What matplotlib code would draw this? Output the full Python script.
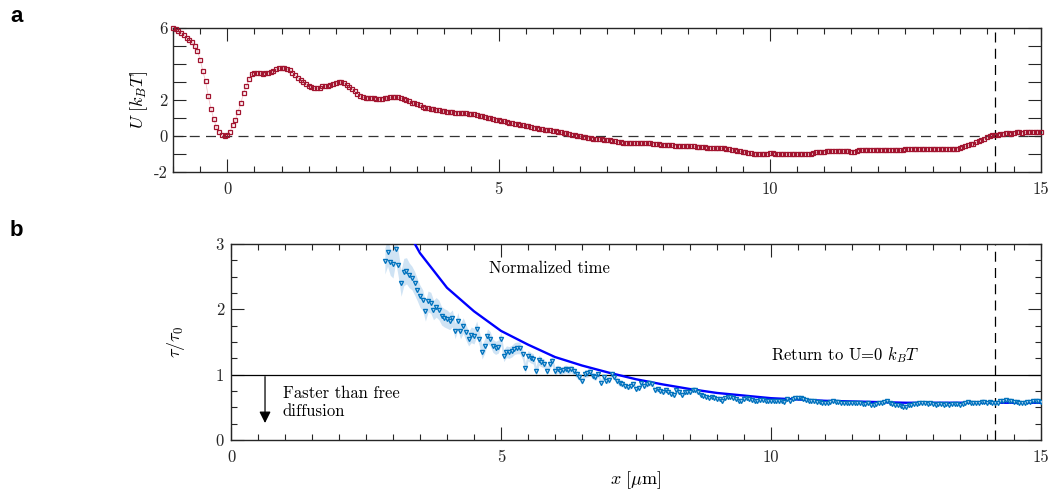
import numpy as np
import matplotlib
matplotlib.use("Agg")
import matplotlib.pyplot as plt

plt.rcParams['font.family'] = 'cmr10'
plt.rcParams['mathtext.fontset'] = 'cm'
plt.rcParams['axes.unicode_minus'] = False
plt.rcParams['axes.formatter.use_mathtext'] = True

# panel a: potential U(x), sampled every 0.05 um from -1 to 15
pot_x = np.round(np.arange(-1.0, 15.001, 0.05), 2)
pot_u = [
    6.0, 5.92, 5.82, 5.72, 5.6, 5.47, 5.35, 5.2, 5.02, 4.72, 4.25, 3.6, 3.03, 2.2, 1.5, 0.95, 0.48, 0.2, 0.05, 0.0,
    0.05, 0.25, 0.6, 0.9, 1.36, 1.82, 2.4, 2.76, 3.15, 3.43, 3.5, 3.52, 3.52, 3.45, 3.5, 3.52, 3.57, 3.63, 3.7, 3.77,
    3.78, 3.78, 3.74, 3.65, 3.52, 3.38, 3.22, 3.09, 2.98, 2.88, 2.79, 2.71, 2.64, 2.64, 2.69, 2.76, 2.77, 2.77, 2.84, 2.9,
    2.95, 2.98, 3.0, 2.93, 2.84, 2.72, 2.6, 2.48, 2.35, 2.24, 2.14, 2.12, 2.12, 2.12, 2.1, 2.05, 2.04, 2.08, 2.1, 2.1,
    2.14, 2.16, 2.16, 2.14, 2.1, 2.04, 1.98, 1.93, 1.86, 1.81, 1.76, 1.7, 1.62, 1.57, 1.54, 1.5, 1.48, 1.45, 1.43, 1.41,
    1.38, 1.36, 1.34, 1.32, 1.3, 1.29, 1.28, 1.27, 1.26, 1.24, 1.22, 1.2, 1.16, 1.12, 1.09, 1.06, 1.02, 0.98, 0.95, 0.91,
    0.88, 0.84, 0.81, 0.78, 0.75, 0.72, 0.69, 0.66, 0.63, 0.6, 0.57, 0.54, 0.5, 0.47, 0.44, 0.41, 0.38, 0.36, 0.34, 0.32,
    0.3, 0.27, 0.24, 0.21, 0.18, 0.15, 0.12, 0.08, 0.05, 0.02, -0.02, -0.05, -0.08, -0.1, -0.12, -0.14, -0.16, -0.17, -0.18, -0.2,
    -0.21, -0.22, -0.26, -0.3, -0.33, -0.35, -0.37, -0.38, -0.39, -0.39, -0.39, -0.39, -0.39, -0.39, -0.39, -0.4, -0.41, -0.43, -0.45, -0.46,
    -0.48, -0.49, -0.5, -0.51, -0.52, -0.53, -0.54, -0.54, -0.55, -0.56, -0.57, -0.58, -0.58, -0.59, -0.6, -0.61, -0.62, -0.64, -0.66, -0.68,
    -0.69, -0.69, -0.69, -0.69, -0.7, -0.73, -0.77, -0.8, -0.83, -0.86, -0.88, -0.9, -0.92, -0.96, -1.0, -1.0, -1.0, -1.0, -1.0, -1.0,
    -0.97, -0.96, -0.99, -1.0, -1.0, -1.0, -1.0, -1.0, -1.0, -1.0, -1.0, -1.0, -1.0, -1.0, -1.0, -1.0, -0.95, -0.91, -0.9, -0.89,
    -0.88, -0.86, -0.85, -0.84, -0.84, -0.84, -0.84, -0.84, -0.84, -0.86, -0.88, -0.88, -0.84, -0.8, -0.78, -0.77, -0.76, -0.76, -0.76, -0.76,
    -0.76, -0.76, -0.76, -0.76, -0.76, -0.76, -0.76, -0.79, -0.8, -0.78, -0.74, -0.72, -0.71, -0.71, -0.71, -0.71, -0.71, -0.71, -0.71, -0.71,
    -0.71, -0.71, -0.71, -0.71, -0.71, -0.71, -0.71, -0.71, -0.71, -0.71, -0.67, -0.62, -0.57, -0.52, -0.47, -0.42, -0.36, -0.29, -0.22, -0.15,
    -0.08, -0.02, 0.03, 0.06, 0.08, 0.1, 0.12, 0.18, 0.16, 0.11, 0.18, 0.24, 0.22, 0.18, 0.2, 0.21, 0.22, 0.22, 0.22, 0.22,
    0.22,
]

# panel b: normalized time, measured points every 0.05 um from 2.85 to 15
tau_x = np.round(np.arange(2.85, 15.001, 0.05), 2)
tau = [
    2.74, 2.87, 2.72, 2.7, 2.93, 2.68, 2.4, 2.57, 2.59, 2.52, 2.48, 2.4, 2.3, 2.2, 2.14, 1.97, 2.12, 2.1, 1.99, 2.03,
    1.99, 1.9, 1.87, 1.85, 1.82, 1.86, 1.67, 1.82, 1.67, 1.75, 1.65, 1.55, 1.61, 1.59, 1.7, 1.55, 1.35, 1.44, 1.59, 1.55,
    1.44, 1.41, 1.43, 1.55, 1.29, 1.35, 1.34, 1.36, 1.4, 1.41, 1.41, 1.31, 1.1, 1.29, 1.26, 1.24, 1.05, 1.22, 1.19, 1.17,
    1.06, 1.16, 1.21, 1.05, 1.09, 1.05, 1.07, 1.09, 1.07, 1.09, 1.05, 1.01, 0.97, 0.9, 1.01, 1.02, 1.04, 0.98, 0.96, 1.01,
    0.88, 0.96, 0.91, 0.92, 1.01, 0.96, 0.91, 0.87, 0.86, 0.83, 0.81, 0.82, 0.86, 0.78, 0.8, 0.88, 0.83, 0.85, 0.87, 0.86,
    0.76, 0.78, 0.75, 0.74, 0.76, 0.74, 0.71, 0.69, 0.76, 0.74, 0.69, 0.73, 0.74, 0.74, 0.77, 0.76, 0.74, 0.69, 0.68, 0.66,
    0.65, 0.66, 0.65, 0.63, 0.62, 0.59, 0.65, 0.66, 0.66, 0.65, 0.63, 0.59, 0.6, 0.63, 0.64, 0.62, 0.61, 0.59, 0.6, 0.61,
    0.61, 0.6, 0.59, 0.6, 0.6, 0.59, 0.59, 0.6, 0.58, 0.63, 0.6, 0.63, 0.65, 0.64, 0.64, 0.62, 0.61, 0.6, 0.59, 0.59,
    0.58, 0.58, 0.57, 0.56, 0.57, 0.58, 0.59, 0.58, 0.58, 0.57, 0.56, 0.56, 0.57, 0.56, 0.56, 0.57, 0.56, 0.55, 0.55, 0.56,
    0.54, 0.54, 0.55, 0.56, 0.57, 0.58, 0.59, 0.57, 0.55, 0.54, 0.54, 0.52, 0.5, 0.51, 0.53, 0.54, 0.55, 0.55, 0.56, 0.56,
    0.56, 0.55, 0.56, 0.55, 0.54, 0.55, 0.55, 0.54, 0.55, 0.54, 0.55, 0.55, 0.55, 0.54, 0.55, 0.56, 0.58, 0.57, 0.56, 0.56,
    0.57, 0.58, 0.58, 0.57, 0.58, 0.57, 0.56, 0.57, 0.59, 0.59, 0.61, 0.6, 0.6, 0.58, 0.58, 0.57, 0.56, 0.57, 0.58, 0.58,
    0.59, 0.59, 0.6, 0.58,
]
tau_err = [
    0.2, 0.21, 0.2, 0.22, 0.21, 0.19, 0.2, 0.21, 0.2, 0.19, 0.18, 0.18, 0.17, 0.17, 0.16, 0.15, 0.16, 0.16, 0.15, 0.15,
    0.15, 0.14, 0.14, 0.14, 0.13, 0.13, 0.12, 0.13, 0.12, 0.12, 0.12, 0.11, 0.12, 0.12, 0.12, 0.11, 0.11, 0.11, 0.11, 0.11,
    0.1, 0.1, 0.1, 0.1, 0.09, 0.09, 0.09, 0.09, 0.09, 0.09, 0.09, 0.08, 0.08, 0.08, 0.08, 0.08, 0.08, 0.08, 0.07, 0.07,
    0.07, 0.07, 0.07, 0.07, 0.06, 0.06, 0.06, 0.06, 0.06, 0.06, 0.06, 0.06, 0.06, 0.05, 0.06, 0.06, 0.06, 0.05, 0.05, 0.05,
    0.05, 0.05, 0.05, 0.05, 0.05, 0.05, 0.05, 0.05, 0.05, 0.04, 0.04, 0.04, 0.04, 0.04, 0.04, 0.04, 0.04, 0.04, 0.04, 0.04,
    0.04, 0.04, 0.04, 0.04, 0.04, 0.04, 0.04, 0.04, 0.04, 0.04, 0.04, 0.04, 0.04, 0.04, 0.04, 0.04, 0.04, 0.04, 0.03, 0.03,
    0.03, 0.03, 0.03, 0.03, 0.03, 0.03, 0.03, 0.03, 0.03, 0.03, 0.03, 0.03, 0.03, 0.03, 0.03, 0.03, 0.03, 0.03, 0.03, 0.03,
    0.03, 0.03, 0.03, 0.03, 0.03, 0.03, 0.03, 0.03, 0.03, 0.03, 0.03, 0.03, 0.03, 0.03, 0.03, 0.03, 0.03, 0.03, 0.03, 0.03,
    0.02, 0.02, 0.02, 0.02, 0.02, 0.02, 0.02, 0.02, 0.02, 0.02, 0.02, 0.02, 0.02, 0.02, 0.02, 0.02, 0.02, 0.02, 0.02, 0.02,
    0.02, 0.02, 0.02, 0.02, 0.02, 0.02, 0.02, 0.02, 0.02, 0.02, 0.02, 0.02, 0.02, 0.02, 0.02, 0.02, 0.02, 0.02, 0.02, 0.02,
    0.02, 0.02, 0.02, 0.02, 0.02, 0.02, 0.02, 0.02, 0.02, 0.02, 0.02, 0.02, 0.02, 0.02, 0.02, 0.02, 0.02, 0.02, 0.02, 0.02,
    0.02, 0.02, 0.02, 0.02, 0.02, 0.02, 0.02, 0.02, 0.02, 0.02, 0.02, 0.02, 0.02, 0.02, 0.02, 0.02, 0.02, 0.02, 0.02, 0.02,
    0.02, 0.02, 0.02, 0.02,
]

# model curve for the normalized time
model_x = np.arange(3.0, 15.001, 0.5)
model_tau = [3.6, 2.86, 2.33, 1.97, 1.67, 1.46, 1.27, 1.14, 1.03, 0.93, 0.85, 0.78, 0.72,
             0.68, 0.64, 0.62, 0.6, 0.59, 0.58, 0.57, 0.57, 0.57, 0.57, 0.57, 0.57]

x_return = 14.15

red = '#A2142F'
blue = '#0072BD'
spine_col = '#262626'

fig = plt.figure(figsize=(10.5, 4.96), dpi=100)
ax_a = fig.add_axes([0.1648, 0.6532, 0.8267, 0.2903])
ax_b = fig.add_axes([0.22, 0.1129, 0.7714, 0.3952])


def style_axes(ax):
    for s in ax.spines.values():
        s.set_color(spine_col)
        s.set_linewidth(1.0)
    ax.tick_params(which='both', direction='in', top=True, right=True,
                   colors=spine_col, labelcolor='#262626', labelsize=12, width=0.8)
    ax.tick_params(which='major', length=9.5)
    ax.tick_params(which='minor', length=4.5)


# ---- panel a
ax_a.axhline(0, color='#333333', lw=0.9, ls=(0, (8, 5)), zorder=1)
ax_a.axvline(x_return, color='black', lw=0.9, ls=(0, (8, 5)), zorder=1)
ax_a.plot(pot_x, pot_u, '-', color='#f0b8c0', lw=0.5, zorder=2)
ax_a.plot(pot_x, pot_u, 's', ms=3.2, mfc='none', mec=red, mew=0.9, zorder=3, clip_on=False)
ax_a.set_xlim(-1, 15)
ax_a.set_ylim(-2, 6)
style_axes(ax_a)
ax_a.set_xticks([0, 5, 10, 15])
ax_a.set_xticklabels(['0', '5', '10', '15'])
ax_a.set_xticks(np.arange(-1, 15.01, 0.5), minor=True)
ax_a.set_yticks(np.arange(-2, 6.01, 1))
ax_a.set_yticklabels(['-2', '', '0', '', '2', '', '', '', '6'])
ax_a.tick_params(axis='x', pad=7)
ax_a.tick_params(axis='y', pad=4)
ax_a.set_ylabel(r'$U\ [k_BT]$', fontsize=13)
ax_a.yaxis.set_label_coords(-0.027, 0.5)

# ---- panel b
ax_b.fill_between(tau_x, np.array(tau) - np.array(tau_err), np.array(tau) + np.array(tau_err),
                  color='#cfe3f4', lw=0, zorder=1)
ax_b.plot(model_x, model_tau, '-', color='#0000FF', lw=1.7, zorder=3)
ax_b.plot(tau_x, tau, 'v', ms=3.0, mfc='#a9d0ee', mec=blue, mew=0.9, zorder=4)
ax_b.axhline(1, color='black', lw=0.9, zorder=2)
ax_b.axvline(x_return, color='black', lw=0.9, ls=(0, (8, 5)), zorder=2)
ax_b.set_xlim(0, 15)
ax_b.set_ylim(0, 3)
style_axes(ax_b)
ax_b.set_xticks([0, 5, 10, 15])
ax_b.set_xticklabels(['0', '5', '10', '15'])
ax_b.set_xticks(np.arange(0, 15.01, 0.5), minor=True)
ax_b.set_yticks([0, 1, 2, 3])
ax_b.set_yticklabels(['0', '1', '2', '3'])
ax_b.set_yticks(np.arange(0, 3.01, 0.25), minor=True)
ax_b.tick_params(axis='x', pad=7)
ax_b.tick_params(axis='y', pad=5)
ax_b.set_ylabel(r'$\tau/\tau_0$', fontsize=13)
ax_b.yaxis.set_label_coords(-0.054, 0.5)
ax_b.set_xlabel(r'$x\ [\mu\mathrm{m}]$', fontsize=13)
ax_b.xaxis.set_label_coords(0.5, -0.15)

ax_b.text(4.78, 2.63, 'Normalized time', fontsize=12, va='center', ha='left')
ax_b.text(10.0, 1.3, r'Return to U=0 $k_BT$', fontsize=12, va='center', ha='left')
ax_b.text(0.96, 0.58, 'Faster than free\ndiffusion', fontsize=12, va='center', ha='left',
          linespacing=1.25)
ax_b.annotate('', xy=(0.63, 0.26), xytext=(0.63, 0.97),
              arrowprops=dict(arrowstyle='-|>', color='black', lw=0.9,
                              mutation_scale=17, shrinkA=0, shrinkB=0))

fig.text(10 / 1050, 1 - 17 / 496, 'a', fontsize=16, fontweight='bold',
         family='Liberation Sans', va='center', ha='left')
fig.text(10 / 1050, 1 - 231 / 496, 'b', fontsize=16, fontweight='bold',
         family='Liberation Sans', va='center', ha='left')

fig.savefig('out.png', dpi=100)
